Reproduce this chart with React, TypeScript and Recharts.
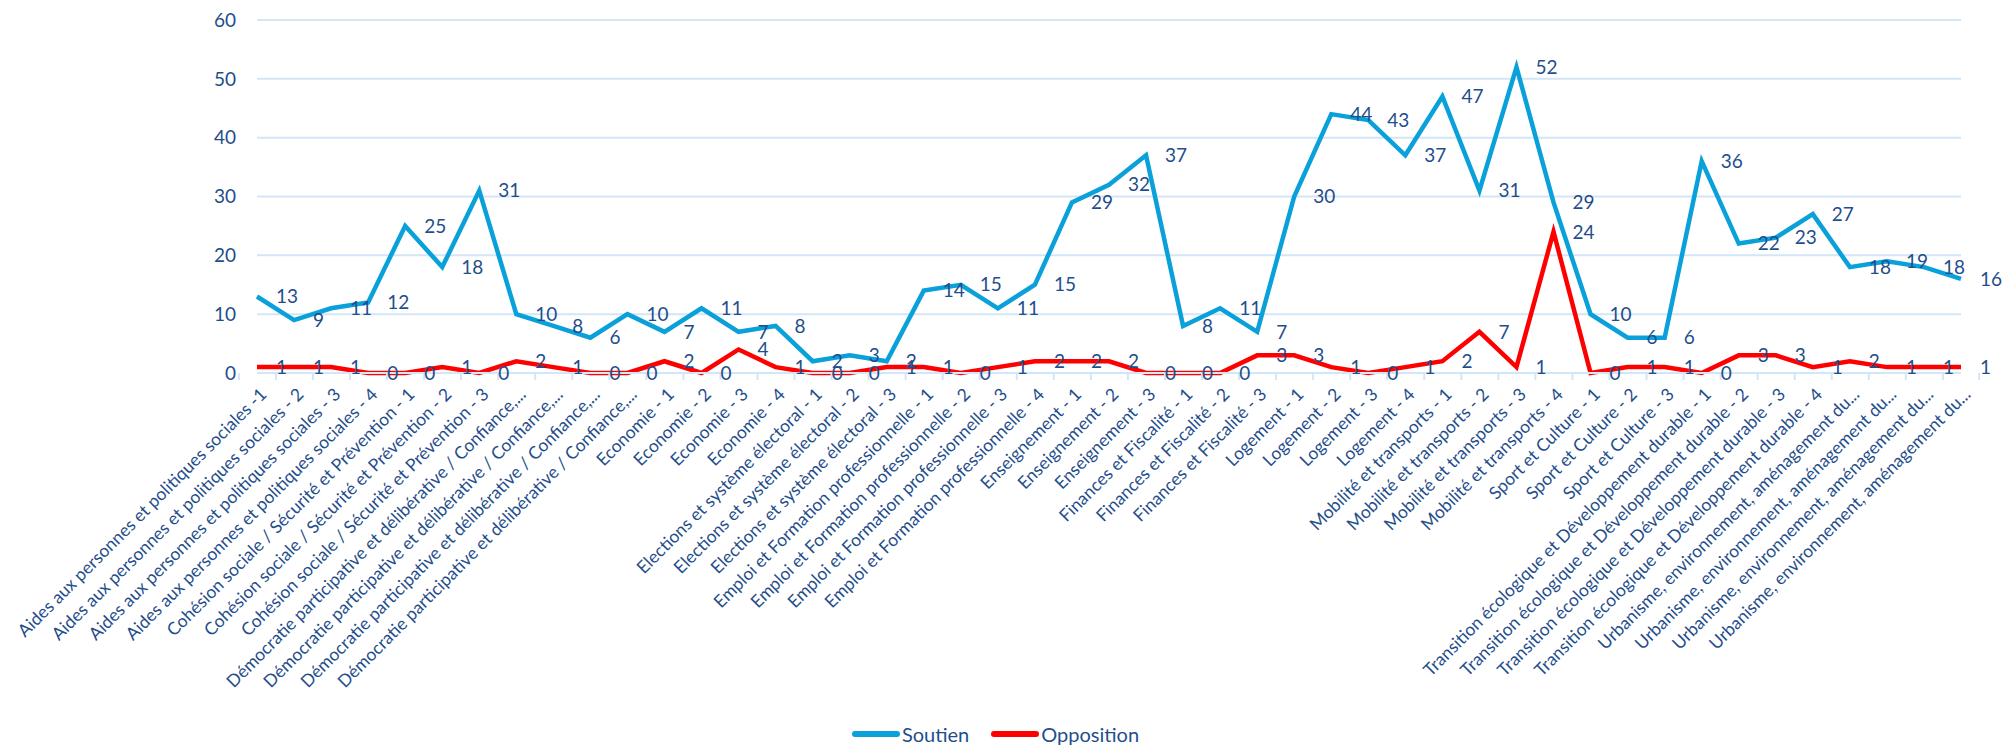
import { LineChart, Line, XAxis, YAxis, CartesianGrid, Legend, LabelList } from "recharts";

const categories = [
  "Aides aux personnes et politiques sociales -1",
  "Aides aux personnes et politiques sociales - 2",
  "Aides aux personnes et politiques sociales - 3",
  "Aides aux personnes et politiques sociales - 4",
  "Cohésion sociale / Sécurité et Prévention - 1",
  "Cohésion sociale / Sécurité et Prévention - 2",
  "Cohésion sociale / Sécurité et Prévention - 3",
  "Démocratie participative et délibérative / Confiance,...",
  "Démocratie participative et délibérative / Confiance,...",
  "Démocratie participative et délibérative / Confiance,...",
  "Démocratie participative et délibérative / Confiance,...",
  "Economie - 1",
  "Economie - 2",
  "Economie - 3",
  "Economie - 4",
  "Elections et système électoral - 1",
  "Elections et système électoral - 2",
  "Elections et système électoral - 3",
  "Emploi et Formation professionnelle - 1",
  "Emploi et Formation professionnelle - 2",
  "Emploi et Formation professionnelle - 3",
  "Emploi et Formation professionnelle - 4",
  "Enseignement - 1",
  "Enseignement - 2",
  "Enseignement - 3",
  "Finances et Fiscalité - 1",
  "Finances et Fiscalité - 2",
  "Finances et Fiscalité - 3",
  "Logement - 1",
  "Logement - 2",
  "Logement - 3",
  "Logement - 4",
  "Mobilité et transports - 1",
  "Mobilité et transports - 2",
  "Mobilité et transports - 3",
  "Mobilité et transports - 4",
  "Sport et Culture - 1",
  "Sport et Culture - 2",
  "Sport et Culture - 3",
  "Transition écologique et Développement durable - 1",
  "Transition écologique et Développement durable - 2",
  "Transition écologique et Développement durable - 3",
  "Transition écologique et Développement durable - 4",
  "Urbanisme, environnement, aménagement du...",
  "Urbanisme, environnement, aménagement du...",
  "Urbanisme, environnement, aménagement du...",
  "Urbanisme, environnement, aménagement du...",
];

const soutien = [
  13, 9, 11, 12, 25, 18, 31, 10, 8, 6, 10, 7, 11, 7, 8, 2, 3, 2, 14, 15, 11, 15, 29, 32,
  37, 8, 11, 7, 30, 44, 43, 37, 47, 31, 52, 29, 10, 6, 6, 36, 22, 23, 27, 18, 19, 18, 16,
];

const opposition = [
  1, 1, 1, 0, 0, 1, 0, 2, 1, 0, 0, 2, 0, 4, 1, 0, 0, 1, 1, 0, 1, 2, 2, 2,
  0, 0, 0, 3, 3, 1, 0, 1, 2, 7, 1, 24, 0, 1, 1, 0, 3, 3, 1, 2, 1, 1, 1,
];

const yTicks = [0, 10, 20, 30, 40, 50, 60];

const data = categories.map((name, i) => ({
  id: i,
  name,
  soutien: soutien[i],
  opposition: opposition[i],
}));

const W = 2007;
const H = 752;
const LEFT = 257;
const RIGHT = 46;
const BAND = (W - LEFT - RIGHT) / categories.length;
const TEXT = "#1F4E8C";
const GRID = "#D3E6F7";
const BLUE = "#0AA0DA";
const RED = "#FF0000";
const FONT = "Lato, 'Open Sans', sans-serif";

function CategoryTick(props: any) {
  const { x, y, payload, index } = props;
  const label = categories[payload.value] ?? "";
  const last = index === categories.length - 1;
  return (
    <g>
      <line x1={x - BAND / 2} x2={x - BAND / 2} y1={y - 8} y2={y - 1} stroke={GRID} strokeWidth={2} />
      {last && (
        <line x1={x + BAND / 2} x2={x + BAND / 2} y1={y - 8} y2={y - 1} stroke={GRID} strokeWidth={2} />
      )}
      <text
        x={x + 6}
        y={y + 10}
        transform={`rotate(-45, ${x + 6}, ${y + 10})`}
        textAnchor="end"
        dominantBaseline="central"
        fill={TEXT}
        fontSize={17.5}
        fontFamily={FONT}
      >
        {label}
      </text>
    </g>
  );
}

function LegendContent() {
  const items = [
    { name: "Soutien", color: BLUE },
    { name: "Opposition", color: RED },
  ];
  return (
    <div
      style={{
        display: "flex",
        justifyContent: "center",
        gap: 22,
        height: 36,
        alignItems: "center",
        fontFamily: FONT,
        paddingLeft: 30,
      }}
    >
      {items.map((it) => (
        <div key={it.name} style={{ display: "flex", alignItems: "center", gap: 2 }}>
          <div style={{ width: 48, height: 6, borderRadius: 3, background: it.color }} />
          <span style={{ color: TEXT, fontSize: 20 }}>{it.name}</span>
        </div>
      ))}
    </div>
  );
}

export default function App() {
  return (
    <div style={{ position: "absolute", left: 0, top: 0, width: W, height: H, background: "#fff" }}>
      <LineChart width={W} height={H} data={data} margin={{ top: 20, right: RIGHT, left: 0, bottom: 0 }}>
        <CartesianGrid horizontal vertical={false} stroke={GRID} strokeWidth={2} />
        <XAxis
          dataKey="id"
          type="category"
          interval={0}
          height={343}
          tickLine={false}
          axisLine={{ stroke: GRID, strokeWidth: 2 }}
          tick={<CategoryTick />}
        />
        <YAxis
          width={LEFT}
          domain={[0, 60]}
          ticks={yTicks}
          axisLine={false}
          tickLine={false}
          tickSize={0}
          tickMargin={21}
          tick={{ fill: TEXT, fontSize: 19, fontFamily: FONT }}
        />
        <Legend verticalAlign="bottom" content={<LegendContent />} />
        <Line
          type="linear"
          dataKey="soutien"
          name="Soutien"
          stroke={BLUE}
          strokeWidth={4.5}
          dot={false}
          isAnimationActive={false}
        >
          <LabelList dataKey="soutien" position="right" offset={19} fill={TEXT} fontSize={19} fontFamily={FONT} />
        </Line>
        <Line
          type="linear"
          dataKey="opposition"
          name="Opposition"
          stroke={RED}
          strokeWidth={4.5}
          dot={false}
          isAnimationActive={false}
        >
          <LabelList dataKey="opposition" position="right" offset={19} fill={TEXT} fontSize={19} fontFamily={FONT} />
        </Line>
      </LineChart>
    </div>
  );
}
